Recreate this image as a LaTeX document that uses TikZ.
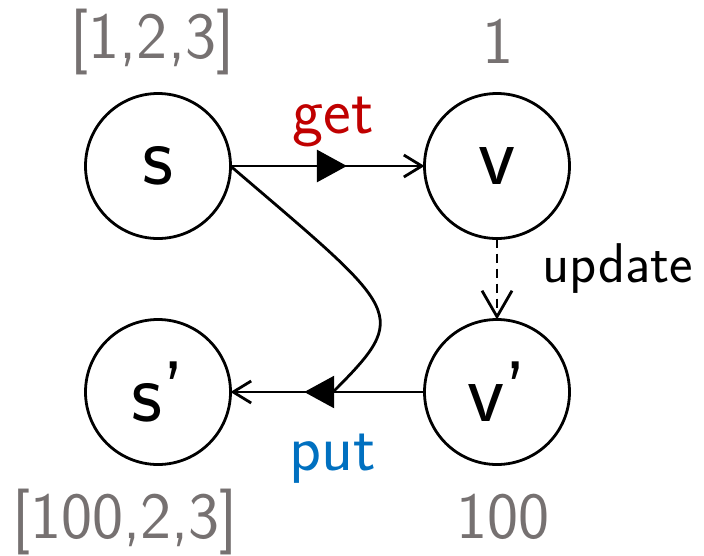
\documentclass[tikz,border=0pt]{standalone}
\usepackage{fontspec}
\usetikzlibrary{arrows.meta,decorations.markings}
\definecolor{lblgray}{HTML}{767171}
\definecolor{getred}{HTML}{C00000}
\definecolor{putblue}{HTML}{0070C0}
\tikzset{
  state/.style={draw, circle, line width=2.8pt, minimum size=145pt, inner sep=0pt, outer sep=0pt,
    font=\fontsize{86}{86}\selectfont\sffamily},
  value/.style={anchor=base, text=lblgray, inner sep=0pt, font=\fontsize{66}{66}\selectfont\sffamily},
  oplabel/.style={anchor=base, inner sep=0pt, font=\fontsize{66}{66}\selectfont\sffamily},
  flow/.style={line width=2.8pt, -{Straight Barb[length=18pt,width=22pt,line width=2.8pt]}},
  midtri/.style={postaction={decorate}, decoration={markings,
    mark=at position #1 with {\arrow{Triangle[length=30pt,width=32pt]}}}},
}
\begin{document}
\begin{tikzpicture}[x=1pt,y=-1pt]
  \useasboundingbox (0,0) rectangle (704,555);

  % the four states
  \node[state] (s)  at (158,166) {s};
  \node[state] (v)  at (497,166) {v};
  \node[state] (s2) at (158,392) {s'};
  \node[state] (v2) at (497,392) {v'};

  % values held by each state
  \node[value] (sval)  at (152.5,58) {[1,2,3]};
  \node[value] (vval)  at (498,63)   {1};
  \node[value] (s2val) at (125,538)  {[100,2,3]};
  \node[value] (v2val) at (503,538)  {100};

  % get: s -> v
  \draw[flow, midtri=0.6] (s.east) -- (v.west);
  \node[oplabel, text=getred] (get) at (333,133) {get};

  % update: v -> v'
  \draw[line width=2.8pt, dash pattern=on 9pt off 6pt,
        -{Straight Barb[length=26pt,width=30pt,line width=2.8pt]}] (v.south) -- (v2.north);
  \node[oplabel, font=\fontsize{56}{56}\selectfont\sffamily] (upd) at (618,282) {update};

  % put: v' -> s', with the source state fed in from s
  \coordinate (join) at (332,393);
  \draw[flow, midtri=0.62] (v2.west) -- (s2.east);
  \draw[line width=2.8pt] (s.east) .. controls (402,313) and (412,313) .. (join);
  \node[oplabel, text=putblue] (put) at (333,470) {put};
\end{tikzpicture}
\end{document}
